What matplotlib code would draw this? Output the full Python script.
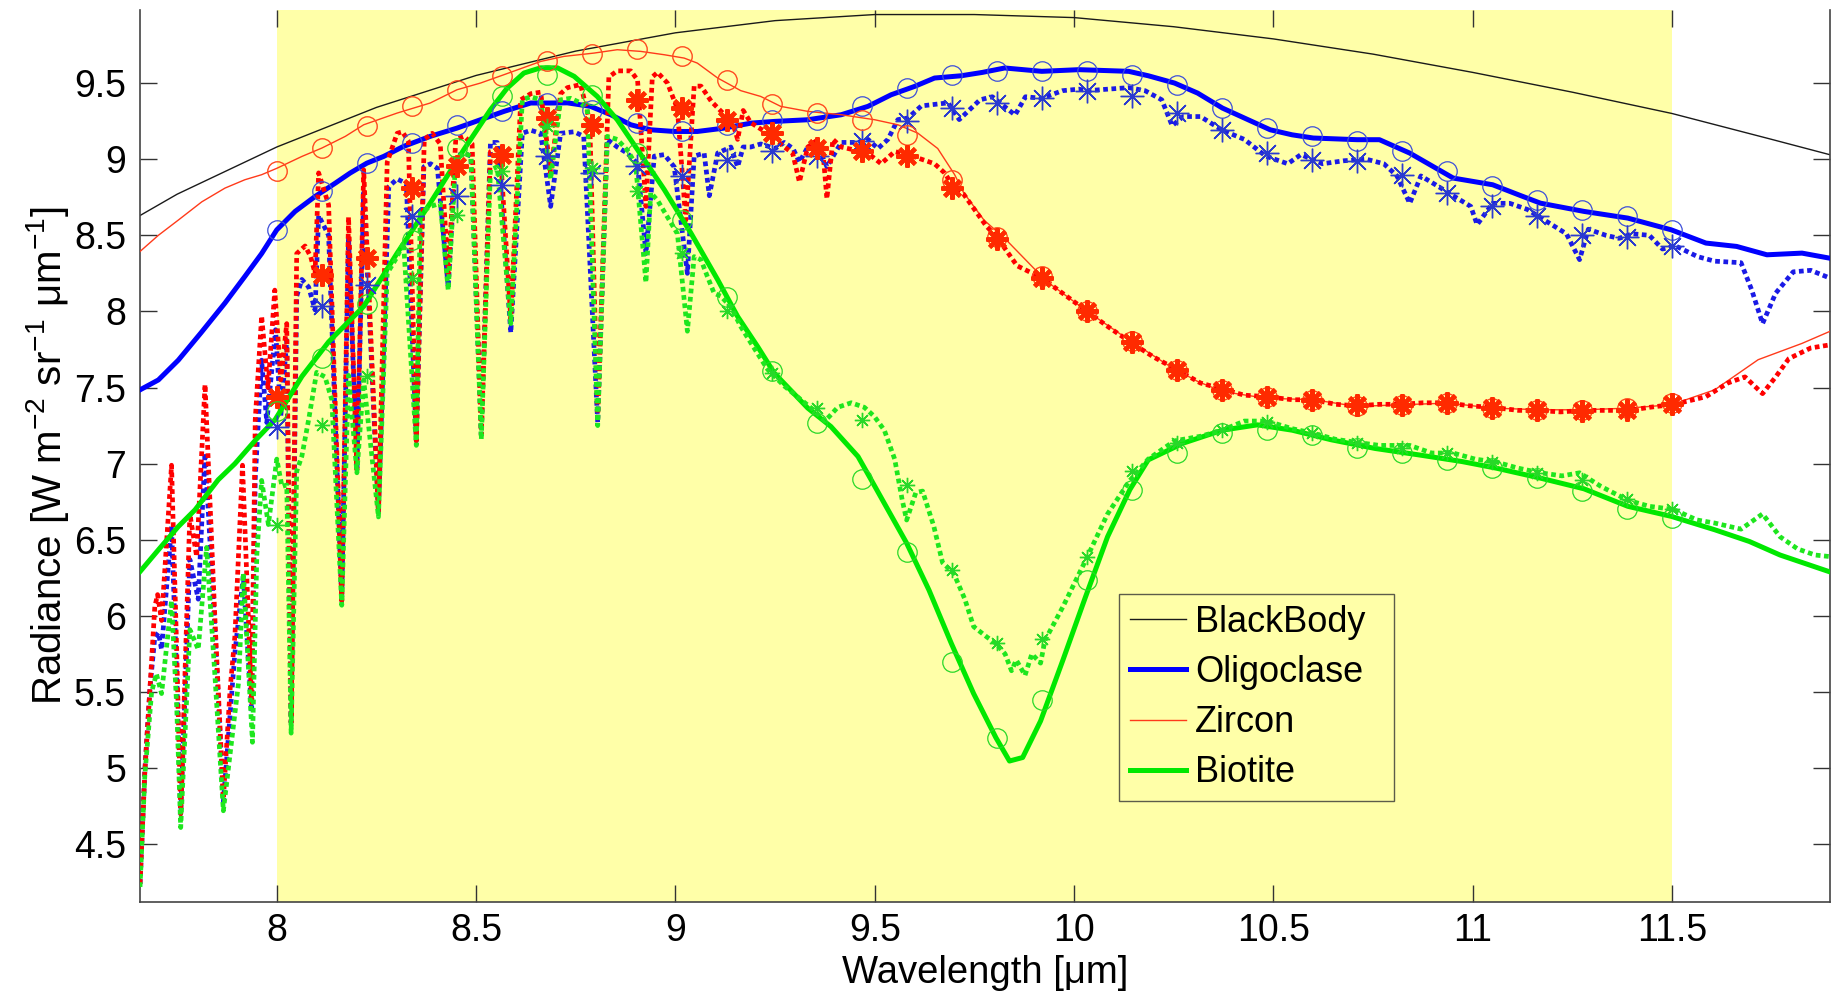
import numpy as np
import matplotlib.pyplot as plt
from matplotlib.ticker import FormatStrFormatter

plt.rcParams['font.family'] = ['Liberation Sans', 'DejaVu Sans']
plt.rcParams['mathtext.fontset'] = 'custom'
plt.rcParams['mathtext.rm'] = 'Liberation Sans'
plt.rcParams['mathtext.it'] = 'Liberation Sans:italic'
plt.rcParams['mathtext.default'] = 'regular'

# ---- blackbody reference ----
bb_x = [7.657, 7.75, 8.0, 8.25, 8.5, 8.75, 9.0, 9.25, 9.5, 9.75, 10.0, 10.25,
        10.5, 10.75, 11.0, 11.25, 11.5, 11.75, 11.895]
bb_y = [8.63, 8.77, 9.08, 9.34, 9.55, 9.71, 9.83, 9.91, 9.95, 9.95, 9.93, 9.87,
        9.79, 9.69, 9.57, 9.44, 9.30, 9.13, 9.03]

# ---- surface radiance (solid) ----
olig_x = [7.657, 7.703, 7.753, 7.81, 7.87, 7.92, 7.962, 8.0, 8.046, 8.096, 8.147,
          8.184, 8.226, 8.268, 8.318, 8.385, 8.452, 8.511, 8.57, 8.637, 8.687,
          8.729, 8.787, 8.838, 8.888, 8.938, 8.997, 9.055, 9.122, 9.19, 9.248,
          9.332, 9.416, 9.483, 9.541, 9.6, 9.65, 9.717, 9.77, 9.826, 9.919,
          10.012, 10.137, 10.186, 10.252, 10.31, 10.372, 10.492, 10.547, 10.6,
          10.71, 10.766, 10.842, 10.951, 11.05, 11.115, 11.17, 11.279, 11.389,
          11.498, 11.585, 11.662, 11.738, 11.826, 11.895]
olig_y = [7.485, 7.55, 7.68, 7.86, 8.055, 8.23, 8.38, 8.536, 8.657, 8.755, 8.843,
          8.909, 8.974, 9.018, 9.084, 9.15, 9.204, 9.259, 9.314, 9.369, 9.369,
          9.37, 9.347, 9.292, 9.226, 9.193, 9.182, 9.182, 9.204, 9.237, 9.248,
          9.259, 9.292, 9.347, 9.423, 9.478, 9.533, 9.548, 9.57, 9.599, 9.577,
          9.588, 9.577, 9.548, 9.5, 9.434, 9.336, 9.193, 9.16, 9.139,
          9.128, 9.128, 9.04, 8.876, 8.832, 8.766, 8.711, 8.657, 8.613,
          8.536, 8.449, 8.427, 8.372, 8.383, 8.35]

zir_x = [7.657, 7.703, 7.753, 7.812, 7.87, 7.92, 7.962, 8.0, 8.063, 8.113, 8.172,
         8.218, 8.302, 8.385, 8.452, 8.511, 8.57, 8.662, 8.72, 8.796, 8.854,
         8.913, 8.972, 9.022, 9.055, 9.106, 9.164, 9.214, 9.264, 9.332, 9.416,
         9.5, 9.558, 9.608, 9.658, 9.7, 9.723, 9.774, 9.826, 9.93, 10.033,
         10.137, 10.24, 10.31, 10.372, 10.481, 10.6, 10.71, 10.82, 10.94, 11.05,
         11.17, 11.28, 11.39, 11.498, 11.607, 11.716, 11.826, 11.895]
zir_y = [8.394, 8.50, 8.60, 8.72, 8.81, 8.865, 8.898, 8.94, 9.018, 9.073, 9.15,
         9.226, 9.303, 9.369, 9.456, 9.5, 9.555, 9.642, 9.675, 9.697, 9.719,
         9.708, 9.686, 9.664, 9.631, 9.533, 9.45, 9.412, 9.347, 9.314, 9.292,
         9.259, 9.226, 9.171, 9.07, 8.90, 8.78, 8.60, 8.48, 8.20, 8.0,
         7.814, 7.64, 7.54, 7.474, 7.43, 7.42, 7.376, 7.387, 7.398, 7.365,
         7.354, 7.354, 7.365, 7.387, 7.485, 7.683, 7.79, 7.868]

bio_x = [7.657, 7.703, 7.753, 7.795, 7.853, 7.895, 7.946, 7.996, 8.063, 8.13,
         8.218, 8.302, 8.385, 8.469, 8.536, 8.578, 8.62, 8.662, 8.704, 8.746,
         8.804, 8.854, 8.905, 8.972, 9.039, 9.106, 9.156, 9.206, 9.248, 9.332,
         9.39, 9.458, 9.491, 9.58, 9.636, 9.692, 9.748, 9.804, 9.838, 9.871,
         9.916, 9.972, 10.028, 10.084, 10.14, 10.186, 10.274, 10.372, 10.46,
         10.547, 10.645, 10.755, 10.864, 10.973, 11.06, 11.17, 11.279, 11.389,
         11.498, 11.607, 11.694, 11.771, 11.895]
bio_y = [6.291, 6.434, 6.587, 6.697, 6.894, 7.0, 7.153, 7.29, 7.573, 7.80,
         8.033, 8.383, 8.712, 9.062, 9.325, 9.467, 9.566, 9.6, 9.6, 9.544,
         9.412, 9.259, 9.062, 8.80, 8.514, 8.208, 7.967, 7.77, 7.595, 7.365,
         7.244, 7.047, 6.894, 6.478, 6.17, 5.82, 5.49, 5.20, 5.047, 5.07,
         5.31, 5.71, 6.12, 6.52, 6.83, 7.025, 7.135, 7.22, 7.255,
         7.22, 7.157, 7.10, 7.058, 7.014, 6.97, 6.905, 6.835, 6.72,
         6.654, 6.566, 6.489, 6.40, 6.29]

# ---- at-sensor radiance (dotted) ----
zir_dot_x = [7.657, 7.669, 7.682, 7.694, 7.701, 7.711, 7.736, 7.749, 7.759, 7.782,
             7.799, 7.82, 7.845, 7.866, 7.883, 7.895, 7.914, 7.937, 7.946, 7.962,
             7.978, 7.995, 8.01, 8.025, 8.036, 8.05, 8.071, 8.085, 8.096, 8.105,
             8.13, 8.163, 8.18, 8.201, 8.218, 8.255, 8.277, 8.302, 8.315, 8.33,
             8.35, 8.37, 8.39, 8.41, 8.43, 8.449, 8.47, 8.49, 8.513, 8.536, 8.56,
             8.587, 8.612, 8.637, 8.662, 8.687, 8.712, 8.729, 8.762, 8.785, 8.805,
             8.833, 8.854, 8.888, 8.905, 8.926, 8.942, 8.955, 8.98, 9.005, 9.026,
             9.047, 9.064, 9.09, 9.12, 9.139, 9.156, 9.17, 9.189, 9.231, 9.273,
             9.294, 9.311, 9.332, 9.353, 9.369, 9.38, 9.395, 9.416, 9.449, 9.483,
             9.516, 9.55, 9.583, 9.617, 9.65, 9.675, 9.7, 9.723, 9.78, 9.806,
             9.857, 9.919, 9.971, 10.033, 10.085, 10.146, 10.2, 10.256, 10.317,
             10.372, 10.427, 10.484, 10.547, 10.6, 10.656, 10.71, 10.766, 10.823,
             10.875, 10.935, 10.992, 11.048, 11.115, 11.161, 11.22, 11.279, 11.334,
             11.392, 11.443, 11.506, 11.585, 11.64, 11.683, 11.727, 11.76, 11.793,
             11.848, 11.895]
zir_dot_y = [4.24, 4.98, 5.53, 6.06, 6.14, 5.97, 6.99, 5.77, 4.70, 6.67,
             6.39, 7.52, 5.97, 4.80, 5.52, 5.87, 6.99, 5.43, 7.29, 7.97,
             7.50, 8.14, 7.55, 7.92, 5.30, 8.38, 8.43, 8.36, 8.25, 8.91,
             8.70, 6.10, 8.62, 6.96, 8.93, 6.68, 8.98, 9.17, 9.18, 9.12,
             7.15, 9.13, 9.17, 9.10, 8.25, 9.13, 9.15, 9.10, 7.19, 9.05, 9.07,
             7.95, 9.39, 9.43, 9.44, 8.91, 9.43, 9.47, 9.49, 9.25, 7.30,
             9.54, 9.58, 9.58, 9.52, 8.69, 9.54, 9.57, 9.50, 9.33, 8.60,
             9.48, 9.48, 9.38, 9.30, 9.28, 9.13, 9.32, 9.24, 9.17, 9.08,
             9.04, 8.85, 9.08, 9.12, 9.08, 8.74, 9.13, 9.08, 9.06, 9.04,
             8.97, 9.05, 9.03, 9.00, 8.97, 8.91, 8.81, 8.77, 8.56, 8.49,
             8.30, 8.22, 8.12, 8.00, 7.90, 7.79, 7.70, 7.62, 7.53,
             7.49, 7.45, 7.44, 7.42, 7.42, 7.39, 7.38, 7.39, 7.39,
             7.40, 7.40, 7.38, 7.37, 7.35, 7.35, 7.34, 7.35, 7.35,
             7.35, 7.37, 7.39, 7.44, 7.53, 7.57, 7.46, 7.57, 7.69,
             7.76, 7.78]

olig_dot_x = [7.657, 7.669, 7.682, 7.694, 7.703, 7.711, 7.736, 7.749, 7.759, 7.782,
              7.803, 7.82, 7.845, 7.866, 7.895, 7.916, 7.937, 7.946, 7.962, 7.975,
              7.997, 8.01, 8.025, 8.036, 8.05, 8.063, 8.08, 8.096, 8.105, 8.13,
              8.163, 8.18, 8.201, 8.218, 8.255, 8.281, 8.302, 8.325, 8.35, 8.369,
              8.386, 8.403, 8.43, 8.449, 8.47, 8.487, 8.513, 8.536, 8.553, 8.587,
              8.616, 8.637, 8.662, 8.687, 8.712, 8.746, 8.77, 8.805, 8.829, 8.854,
              8.879, 8.905, 8.926, 8.947, 8.972, 8.997, 9.03, 9.047, 9.072, 9.085,
              9.106, 9.139, 9.156, 9.17, 9.189, 9.214, 9.25, 9.273, 9.295, 9.311,
              9.332, 9.36, 9.38, 9.416, 9.457, 9.483, 9.508, 9.533, 9.558, 9.583,
              9.617, 9.65, 9.684, 9.712, 9.764, 9.795, 9.852, 9.878, 9.919, 9.971,
              10.012, 10.033, 10.085, 10.137, 10.178, 10.22, 10.246, 10.274, 10.317,
              10.372, 10.427, 10.481, 10.536, 10.569, 10.623, 10.678, 10.733, 10.777,
              10.81, 10.842, 10.87, 10.908, 10.951, 10.995, 11.011, 11.05, 11.093,
              11.137, 11.18, 11.235, 11.268, 11.29, 11.334, 11.367, 11.4, 11.443,
              11.476, 11.509, 11.564, 11.607, 11.673, 11.7, 11.727, 11.76, 11.804,
              11.848, 11.895]
olig_dot_y = [4.24, 4.98, 5.53, 5.86, 5.89, 5.78, 6.59, 5.60, 4.70, 6.37,
              6.11, 7.07, 5.90, 4.78, 5.76, 6.26, 5.37, 6.90, 7.68, 7.27,
              7.88, 7.31, 7.81, 5.30, 8.10, 8.21, 8.16, 8.01, 8.63, 8.50,
              6.10, 8.49, 6.96, 8.78, 6.68, 8.82, 8.87, 8.84, 7.15, 8.95,
              8.97, 8.94, 8.16, 9.02, 9.04, 9.02, 7.19, 9.11, 9.11, 7.86,
              9.17, 9.19, 9.17, 8.69, 9.17, 9.18, 9.15, 7.27, 9.13, 9.08,
              9.04, 8.97, 8.38, 9.02, 9.03, 8.95, 8.25, 9.02, 9.04, 8.76,
              9.04, 9.08, 8.95, 9.08, 9.08, 9.10, 9.07, 9.11, 9.07, 8.98,
              9.08, 9.07, 8.95, 9.11, 9.11, 9.13, 9.07, 9.13, 9.26, 9.27,
              9.35, 9.36, 9.37, 9.26, 9.39, 9.41, 9.29, 9.41, 9.40, 9.45,
              9.46, 9.45, 9.46, 9.47, 9.45, 9.39, 9.22, 9.28, 9.28,
              9.19, 9.13, 9.02, 8.97, 9.03, 8.97, 8.99, 9.00, 8.97,
              8.89, 8.71, 8.89, 8.83, 8.76, 8.69, 8.57, 8.71, 8.71,
              8.67, 8.60, 8.51, 8.34, 8.54, 8.50, 8.48, 8.51, 8.50,
              8.41, 8.43, 8.36, 8.33, 8.32, 8.14, 7.92, 8.12, 8.26,
              8.27, 8.22]

bio_dot_x = [7.657, 7.669, 7.686, 7.698, 7.711, 7.736, 7.749, 7.759, 7.782, 7.803,
             7.824, 7.845, 7.866, 7.904, 7.916, 7.939, 7.95, 7.962, 7.979, 8.0,
             8.013, 8.025, 8.036, 8.05, 8.063, 8.08, 8.1, 8.121, 8.138, 8.163,
             8.18, 8.201, 8.218, 8.255, 8.277, 8.3, 8.318, 8.35, 8.36, 8.386,
             8.41, 8.43, 8.449, 8.47, 8.487, 8.513, 8.536, 8.553, 8.587, 8.616,
             8.637, 8.662, 8.687, 8.712, 8.737, 8.762, 8.779, 8.805, 8.829, 8.854,
             8.879, 8.9, 8.926, 8.938, 8.955, 8.98, 9.005, 9.03, 9.047, 9.064,
             9.08, 9.097, 9.114, 9.139, 9.164, 9.19, 9.231, 9.273, 9.315, 9.348,
             9.374, 9.386, 9.407, 9.441, 9.474, 9.499, 9.524, 9.55, 9.569, 9.58,
             9.603, 9.62, 9.648, 9.67, 9.698, 9.726, 9.748, 9.782, 9.804, 9.827,
             9.843, 9.855, 9.877, 9.894, 9.916, 9.927, 9.972, 10.028, 10.084,
             10.14, 10.186, 10.252, 10.317, 10.372, 10.427, 10.484, 10.547, 10.6,
             10.656, 10.71, 10.766, 10.842, 10.897, 10.951, 11.006, 11.06, 11.115,
             11.17, 11.224, 11.268, 11.322, 11.389, 11.443, 11.503, 11.563, 11.607,
             11.673, 11.727, 11.771, 11.815, 11.859, 11.895]
bio_dot_y = [4.22, 4.95, 5.50, 5.62, 5.49, 6.10, 5.40, 4.61, 5.91, 5.78,
             6.45, 5.60, 4.72, 5.56, 6.28, 5.17, 6.40, 6.89, 6.60, 7.03,
             6.85, 6.86, 5.23, 6.95, 7.05, 7.29, 7.60, 7.57, 7.42, 6.07,
             7.58, 6.94, 7.55, 6.65, 8.25, 8.35, 8.45, 7.12, 8.65, 8.69,
             8.71, 8.14, 9.00, 9.04, 9.02, 7.16, 8.93, 8.95, 7.92, 9.39,
             9.41, 9.39, 8.87, 9.39, 9.40, 9.37, 9.33, 7.25, 9.15, 9.13,
             9.06, 8.97, 8.19, 8.78, 8.73, 8.62, 8.51, 7.87, 8.36, 8.34,
             8.23, 8.12, 8.10, 8.03, 7.90, 7.79, 7.62, 7.51, 7.42, 7.35,
             7.28, 7.31, 7.37, 7.40, 7.37, 7.31, 7.22, 7.03, 6.76, 6.63,
             6.81, 6.82, 6.59, 6.35, 6.28, 6.11, 5.93, 5.86, 5.82, 5.75,
             5.64, 5.71, 5.61, 5.75, 5.69, 5.84, 6.06, 6.36, 6.67,
             6.89, 7.03, 7.15, 7.18, 7.22, 7.28, 7.28, 7.23, 7.20,
             7.16, 7.14, 7.12, 7.12, 7.07, 7.07, 7.03, 7.01, 6.97,
             6.94, 6.92, 6.94, 6.85, 6.76, 6.72, 6.70, 6.63, 6.61,
             6.57, 6.67, 6.52, 6.44, 6.40, 6.39]

# ---- sensor band values (markers) ----
band_x = [8.0, 8.113, 8.226, 8.339, 8.452, 8.565, 8.677, 8.79, 8.903, 9.016,
          9.129, 9.242, 9.355, 9.468, 9.581, 9.694, 9.806, 9.919, 10.032, 10.145,
          10.258, 10.371, 10.484, 10.597, 10.71, 10.823, 10.935, 11.048, 11.161,
          11.274, 11.387, 11.5]
olig_band = [8.536, 8.788, 8.974, 9.105, 9.226, 9.314, 9.369, 9.325, 9.237, 9.182,
             9.226, 9.259, 9.259, 9.347, 9.467, 9.555, 9.577, 9.577, 9.577, 9.555,
             9.489, 9.336, 9.204, 9.15, 9.117, 9.051, 8.92, 8.821, 8.733, 8.668,
             8.624, 8.536]
olig_band_dot = [7.244, 8.033, 8.175, 8.624, 8.755, 8.832, 9.018, 8.909, 8.952, 8.887,
                 8.996, 9.051, 9.018, 9.117, 9.248, 9.336, 9.369, 9.401, 9.445, 9.412,
                 9.303, 9.193, 9.04, 8.996, 8.985, 8.898, 8.777, 8.69, 8.624, 8.503,
                 8.488, 8.427]
zir_band = [8.92, 9.073, 9.215, 9.347, 9.456, 9.548, 9.642, 9.693, 9.723, 9.68,
            9.522, 9.364, 9.303, 9.255, 9.16, 8.865, 8.486, 8.234, 8.004, 7.807,
            7.617, 7.486, 7.44, 7.42, 7.376, 7.387, 7.398, 7.365, 7.354, 7.354,
            7.365, 7.398]
zir_band_dot = [7.44, 8.24, 8.35, 8.81, 8.952, 9.029, 9.27, 9.226, 9.39, 9.336,
                9.259, 9.171, 9.073, 9.051, 9.018, 8.81, 8.475, 8.22, 8.004, 7.796,
                7.617, 7.486, 7.44, 7.42, 7.387, 7.387, 7.398, 7.365, 7.354, 7.343,
                7.354, 7.39]
bio_band = [7.343, 7.693, 8.05, 8.47, 9.073, 9.412, 9.555, 9.423, 9.04, 8.602,
            8.098, 7.606, 7.266, 6.90, 6.42, 5.70, 5.196, 5.448, 6.237, 6.83,
            7.069, 7.2, 7.22, 7.19, 7.10, 7.069, 7.025, 6.97, 6.905, 6.82,
            6.70, 6.646]
bio_band_dot = [6.60, 7.255, 7.573, 8.219, 8.635, 8.92, 9.22, 8.94, 8.788, 8.383,
                8.0, 7.595, 7.365, 7.288, 6.86, 6.30, 5.82, 5.85, 6.39, 6.95,
                7.135, 7.22, 7.277, 7.2, 7.135, 7.1, 7.069, 7.014, 6.937, 6.894,
                6.77, 6.70]

band_lo, band_hi = 8.0, 11.5

blue, red, red_thin, green = '#0000ff', '#ff0000', '#ff3a1a', '#00e800'
dotted = (0, (1.0, 0.75))
asterisk = (8, 2, 0)

fig = plt.figure(figsize=(18.33, 9.98), dpi=100)
ax = fig.add_axes([0.0764, 0.0965, 0.9217, 0.8935])

ax.axvspan(band_lo, band_hi, color='#ffffa8', lw=0, zorder=0)

bb_line, = ax.plot(bb_x, bb_y, color='#1a1a1a', lw=1.0, zorder=2)

olig_line, = ax.plot(olig_x, olig_y, color=blue, lw=3.6, zorder=3)
ax.plot(olig_dot_x, olig_dot_y, color='#1a1ae6', lw=3.4, ls=dotted, zorder=3)
ax.plot(band_x, olig_band, ls='none', marker='o', ms=14, mfc='none',
        mec='#3d4fd9', mew=0.9, zorder=6)
ax.plot(band_x, olig_band_dot, ls='none', marker=asterisk, ms=17,
        mec='#2a3ad0', mew=1.0, zorder=6)

zir_line, = ax.plot(zir_x, zir_y, color=red_thin, lw=1.0, zorder=4)
ax.plot(zir_dot_x, zir_dot_y, color=red, lw=3.4, ls=dotted, zorder=4)
ax.plot(band_x, zir_band, ls='none', marker='o', ms=14, mfc='none',
        mec='#ff4a1f', mew=1.0, zorder=6)
ax.plot(band_x, zir_band_dot, ls='none', marker=asterisk, ms=16,
        mec='#ff2a00', mew=3.0, zorder=6)

bio_line, = ax.plot(bio_x, bio_y, color=green, lw=3.6, zorder=5)
ax.plot(bio_dot_x, bio_dot_y, color='#1ee61e', lw=3.4, ls=dotted, zorder=5)
ax.plot(band_x, bio_band, ls='none', marker='o', ms=14, mfc='none',
        mec='#28d828', mew=0.9, zorder=6)
ax.plot(band_x, bio_band_dot, ls='none', marker=asterisk, ms=11,
        mec='#28d828', mew=1.0, zorder=6)

ax.set_xlim(7.657, 11.895)
ax.set_ylim(4.123, 9.98)
ax.set_xticks([8, 8.5, 9, 9.5, 10, 10.5, 11, 11.5])
ax.set_yticks([4.5, 5, 5.5, 6, 6.5, 7, 7.5, 8, 8.5, 9, 9.5])
ax.xaxis.set_major_formatter(FormatStrFormatter('%g'))
ax.yaxis.set_major_formatter(FormatStrFormatter('%g'))
ax.tick_params(direction='in', length=12, width=1.0, color='#333333',
               labelsize=27, top=True, right=True)
ax.tick_params(axis='x', pad=8)
ax.tick_params(axis='y', pad=10)
ax.spines['top'].set_visible(False)
for s in ('left', 'right', 'bottom'):
    ax.spines[s].set_color('#444444')
    ax.spines[s].set_linewidth(1.2)

ax.set_xlabel('Wavelength [\u03bcm]', fontsize=27.5)
ax.set_ylabel('Radiance [W m$^{-2}$ sr$^{-1}$ $\\mu$m$^{-1}$]', fontsize=29)
ax.xaxis.set_label_coords(0.5, -0.0598)
ax.yaxis.set_label_coords(-0.041, 0.5)

leg = ax.legend([bb_line, olig_line, zir_line, bio_line],
                ['BlackBody\u2002', 'Oligoclase', 'Zircon', 'Biotite'],
                loc='upper left', bbox_to_anchor=(0.6105, 0.4048),
                bbox_transform=fig.transFigure, fontsize=26, fancybox=False,
                frameon=True, facecolor='none', edgecolor='#333333',
                borderaxespad=0, borderpad=0.3, handlelength=1.55,
                handletextpad=0.25, labelspacing=0.42)
leg.get_frame().set_linewidth(1.0)
leg.set_zorder(10)

fig.savefig('out.png', dpi=100)
